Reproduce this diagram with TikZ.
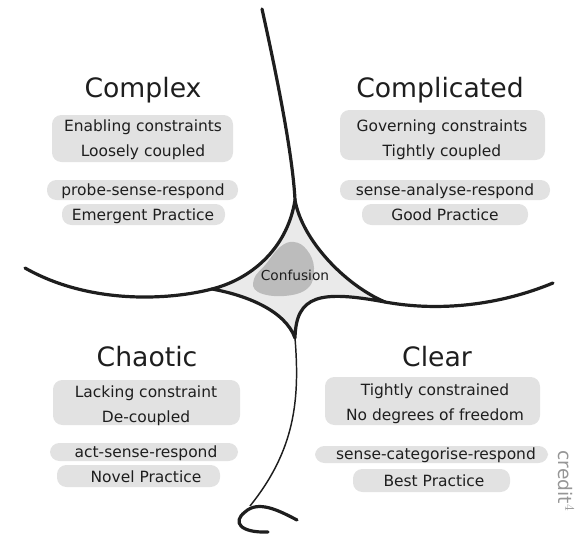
\documentclass[tikz,border=0pt]{standalone}
\usepackage{fontspec}
\setmainfont{DejaVu Sans}

\definecolor{ink}{RGB}{30,30,30}
\definecolor{brushgrey}{RGB}{226,226,226}
\definecolor{fogfill}{RGB}{234,234,234}
\definecolor{fogcore}{RGB}{188,188,188}
\definecolor{creditgrey}{RGB}{150,150,150}

\tikzset{every picture/.style={line width=0.75pt}}
\tikzset{
  domain title/.style={anchor=base, inner sep=0.75pt, color=ink, font=\fontsize{20}{24}\selectfont},
  domain text/.style={anchor=base, inner sep=0.75pt, color=ink, font=\fontsize{11.6}{14}\selectfont},
  brush/.style={fill=brushgrey, draw opacity=0, rounded corners=7},
  boundary/.style={draw=ink, line width=2.4, line cap=round},
}

\begin{document}
\begin{tikzpicture}[x=0.75pt,y=0.75pt,yscale=-1,xscale=1]
\useasboundingbox (0,0) rectangle (581,535); %set diagram to 581 x 535

%Shape: Brush strokes behind the texts
\fill [brush] (52,115) rectangle (233,162) ;
\fill [brush] (47,180) rectangle (238,200) ;
\fill [brush] (62,204) rectangle (225,225) ;
\fill [brush] (340,110) rectangle (545,160) ;
\fill [brush] (340,180) rectangle (550,200) ;
\fill [brush] (362,204) rectangle (528,225) ;
\fill [brush] (53,380) rectangle (240,425) ;
\fill [brush] (50,443) rectangle (238,461) ;
\fill [brush] (57,465) rectangle (220,487) ;
\fill [brush] (325,377) rectangle (540,425) ;
\fill [brush] (315,446) rectangle (548,463) ;
\fill [brush] (353,469) rectangle (510,492) ;

%Shape: Confusion region
\coordinate (fogT) at (295,200) ;
\coordinate (fogL) at (212,289) ;
\coordinate (fogB) at (295,338) ;
\coordinate (fogR) at (385,302) ;
\draw [boundary, fill=fogfill, line join=round] (fogT) .. controls (288,245) and (255,278) .. (fogL) .. controls (245,295) and (285,310) .. (fogB) .. controls (296,295) and (320,290) .. (fogR) .. controls (345,285) and (302,240) .. (fogT) -- cycle ;
%Shape: Confusion core
\fill [fogcore] plot [smooth cycle, tension=0.7] coordinates {(294,242) (307,250) (314,268) (308,288) (284,296) (258,292) (254,279) (266,264) (280,247)} ;

%Curve Lines: upper divide
\coordinate (topEnd) at (262,9) ;
\draw [boundary] (topEnd) .. controls (280,90) and (293,160) .. (fogT) ;
%Curve Lines: left divide
\coordinate (leftEnd) at (25,268) ;
\draw [boundary] (leftEnd) .. controls (90,305) and (170,300) .. (fogL) ;
%Curve Lines: right divide
\coordinate (rightEnd) at (553,283) ;
\draw [boundary] (fogR) .. controls (440,312) and (500,305) .. (rightEnd) ;
%Curve Lines: lower divide
\coordinate (cliffTop) at (250,506) ;
\draw [draw=ink, line width=1.1] (fogB) .. controls (300,400) and (295,450) .. (cliffTop) ;
%Curve Lines: cliff curl
\coordinate (curlEnd) at (268,532) ;
\draw [boundary] (curlEnd) .. controls (240,533) and (232,522) .. (245,512) .. controls (258,500) and (278,510) .. (297,520) ;

% Text Node
\draw (295,275) node (confusion) [anchor=center, inner sep=0.75pt, color=ink, font=\fontsize{10.3}{12}\selectfont] {Confusion};

% Text Node
\draw (143,97) node (complex) [domain title] {Complex};
\draw (143,131) node (complexA) [domain text] {Enabling constraints};
\draw (143,156) node (complexB) [domain text] {Loosely coupled};
\draw (143,195) node (complexC) [domain text] {probe-sense-respond};
\draw (143,220) node (complexD) [domain text] {Emergent Practice};

% Text Node
\draw (440,97) node (complicated) [domain title] {Complicated};
\draw (442,131) node (complicatedA) [domain text] {Governing constraints};
\draw (442,156) node (complicatedB) [domain text] {Tightly coupled};
\draw (445,195) node (complicatedC) [domain text] {sense-analyse-respond};
\draw (445,220) node (complicatedD) [domain text] {Good Practice};

% Text Node
\draw (147,366) node (chaotic) [domain title] {Chaotic};
\draw (146,397) node (chaoticA) [domain text] {Lacking constraint};
\draw (146,422) node (chaoticB) [domain text] {De-coupled};
\draw (146,457) node (chaoticC) [domain text] {act-sense-respond};
\draw (146,482) node (chaoticD) [domain text] {Novel Practice};

% Text Node
\draw (437,366) node (clear) [domain title] {Clear};
\draw (435,395) node (clearA) [domain text] {Tightly constrained};
\draw (435,420) node (clearB) [domain text] {No degrees of freedom};
\draw (436,459) node (clearC) [domain text] {sense-categorise-respond};
\draw (434,486) node (clearD) [domain text] {Best Practice};

% Text Node
\draw (566,481) node (credit) [rotate=-90, anchor=center, inner sep=0.75pt, color=creditgrey, font=\fontsize{14}{16}\selectfont] {credit$^{4}$};

\end{tikzpicture}
\end{document}
